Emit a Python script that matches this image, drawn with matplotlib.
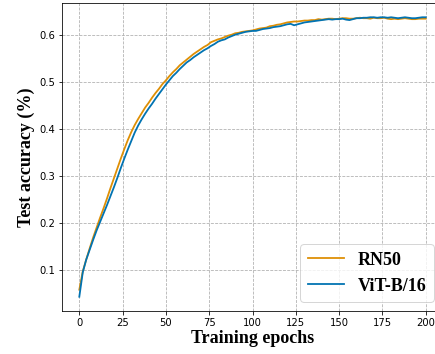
import matplotlib
matplotlib.use("Agg")
import matplotlib.pyplot as plt


# Test accuracy, every 2 epochs
epochs = list(range(0, 201, 2))

rn50_acc = [
    0.058, 0.097, 0.122, 0.146, 0.169, 0.190, 0.211, 0.231, 0.252, 0.274,
    0.295, 0.316, 0.337, 0.357, 0.376, 0.393, 0.408, 0.421, 0.433, 0.445,
    0.455, 0.466, 0.476, 0.485, 0.495, 0.503, 0.512, 0.520, 0.527, 0.535,
    0.541, 0.547, 0.553, 0.559, 0.564, 0.569, 0.574, 0.578, 0.584, 0.587,
    0.590, 0.592, 0.595, 0.598, 0.600, 0.603, 0.604, 0.606, 0.607, 0.608,
    0.609, 0.611, 0.613, 0.614, 0.615, 0.618, 0.619, 0.621, 0.622, 0.624,
    0.626, 0.627, 0.628, 0.628, 0.629, 0.630, 0.630, 0.631, 0.631, 0.633,
    0.632, 0.633, 0.634, 0.634, 0.633, 0.634, 0.635, 0.635, 0.634, 0.634,
    0.635, 0.636, 0.635, 0.635, 0.634, 0.636, 0.635, 0.635, 0.636, 0.634,
    0.633, 0.634, 0.633, 0.634, 0.635, 0.634, 0.633, 0.633, 0.634, 0.634,
    0.634,
]

vit_acc = [
    0.043, 0.095, 0.122, 0.143, 0.164, 0.184, 0.202, 0.220, 0.238, 0.257,
    0.276, 0.296, 0.317, 0.337, 0.356, 0.374, 0.392, 0.407, 0.420, 0.432,
    0.443, 0.453, 0.464, 0.474, 0.484, 0.494, 0.503, 0.512, 0.519, 0.527,
    0.534, 0.541, 0.546, 0.552, 0.557, 0.562, 0.567, 0.571, 0.576, 0.580,
    0.585, 0.588, 0.590, 0.594, 0.597, 0.600, 0.602, 0.604, 0.606, 0.607,
    0.608, 0.608, 0.610, 0.612, 0.613, 0.614, 0.616, 0.617, 0.618, 0.620,
    0.622, 0.623, 0.620, 0.622, 0.624, 0.626, 0.627, 0.628, 0.629, 0.630,
    0.631, 0.632, 0.633, 0.632, 0.633, 0.633, 0.634, 0.632, 0.631, 0.633,
    0.635, 0.635, 0.636, 0.636, 0.637, 0.637, 0.636, 0.637, 0.637, 0.636,
    0.637, 0.636, 0.635, 0.636, 0.637, 0.636, 0.635, 0.635, 0.636, 0.637,
    0.637,
]

series_labels = ["RN50", "ViT-B/16"]
series_colors = ["#DE8F05", "#0173B2"]

fig = plt.figure(figsize=(435 / 72, 354 / 72), dpi=72)
ax = fig.add_axes([0.1425, 0.1223, 0.876, 0.8684])

ax.plot(epochs, rn50_acc, color=series_colors[0], linewidth=1.8, label=series_labels[0])
ax.plot(epochs, vit_acc, color=series_colors[1], linewidth=1.8, label=series_labels[1])

ax.grid(True, linestyle="--", color="#b0b0b0", linewidth=0.8)
ax.tick_params(labelsize=10)

serif_bold = {"family": "Liberation Serif", "weight": "bold", "size": 18}
ax.set_xlabel("Training epochs", fontdict=serif_bold, labelpad=2)
ax.set_ylabel("Test accuracy (%)", fontdict=serif_bold, labelpad=4)

ax.legend(loc="lower right", prop={"family": "Liberation Serif", "weight": "bold", "size": 18})

fig.savefig("out.png", dpi=72)
